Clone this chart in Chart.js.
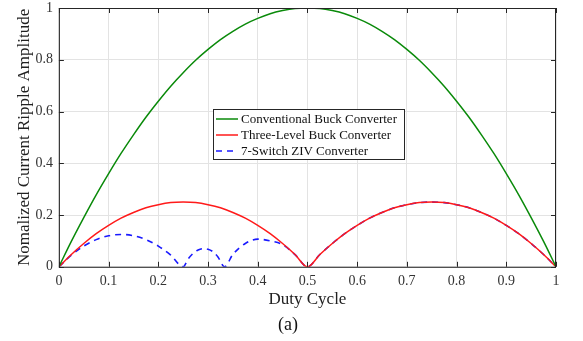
<!DOCTYPE html>
<html lang="en">
<head>
  <meta charset="UTF-8">
  <title>Current Ripple vs Duty Cycle</title>
  <script src="https://cdn.jsdelivr.net/npm/chart.js"></script>
  <style>
    body { margin: 0; background: #fff; }
    .wrap { width: 583px; height: 341px; }
  </style>
</head>
<body>
  <div class="wrap"><canvas id="rippleChart" width="583" height="341"></canvas></div>
  <script>
    // duty cycle samples
    const duty = [0, 0.025, 0.05, 0.075, 0.1, 0.125, 0.15, 0.175, 0.2, 0.225, 0.25,
      0.275, 0.3, 0.325, 0.35, 0.375, 0.4, 0.425, 0.45, 0.475, 0.5,
      0.525, 0.55, 0.575, 0.6, 0.625, 0.65, 0.675, 0.7, 0.725, 0.75,
      0.775, 0.8, 0.825, 0.85, 0.875, 0.9, 0.925, 0.95, 0.975, 1];

    const conventional = [0, 0.098, 0.19, 0.278, 0.36, 0.438, 0.51, 0.578, 0.64, 0.698, 0.75,
      0.798, 0.84, 0.878, 0.91, 0.938, 0.96, 0.978, 0.99, 0.998, 1,
      0.998, 0.99, 0.978, 0.96, 0.938, 0.91, 0.878, 0.84, 0.798, 0.75,
      0.698, 0.64, 0.578, 0.51, 0.438, 0.36, 0.278, 0.19, 0.098, 0];

    const threeLevel = [0, 0.0475, 0.09, 0.128, 0.16, 0.188, 0.21, 0.228, 0.24, 0.248, 0.25,
      0.248, 0.24, 0.228, 0.21, 0.188, 0.16, 0.128, 0.09, 0.0475, 0,
      0.0475, 0.09, 0.128, 0.16, 0.188, 0.21, 0.228, 0.24, 0.248, 0.25,
      0.248, 0.24, 0.228, 0.21, 0.188, 0.16, 0.128, 0.09, 0.0475, 0];

    // 7-switch ZIV has its own x samples below 0.5 (cusps at 0.25 and 1/3)
    const zivDuty = [0, 0.025, 0.05, 0.075, 0.1, 0.125, 0.15, 0.175, 0.2, 0.225, 0.25,
      0.26, 0.27, 0.28, 0.29, 0.3, 0.31, 0.32, 0.3333,
      0.35, 0.375, 0.4, 0.425, 0.45, 0.475, 0.5,
      0.525, 0.55, 0.575, 0.6, 0.625, 0.65, 0.675, 0.7, 0.725, 0.75,
      0.775, 0.8, 0.825, 0.85, 0.875, 0.9, 0.925, 0.95, 0.975, 1];
    const ziv = [0, 0.045, 0.08, 0.105, 0.12, 0.125, 0.12, 0.105, 0.08, 0.045, 0,
      0.03, 0.052, 0.065, 0.07, 0.068, 0.058, 0.038, 0,
      0.048, 0.09, 0.107, 0.1, 0.086, 0.047, 0,
      0.0475, 0.09, 0.128, 0.16, 0.188, 0.21, 0.228, 0.24, 0.248, 0.25,
      0.248, 0.24, 0.228, 0.21, 0.188, 0.16, 0.128, 0.09, 0.0475, 0];

    const xTicks = [0, 0.1, 0.2, 0.3, 0.4, 0.5, 0.6, 0.7, 0.8, 0.9, 1];
    const yTicks = [0, 0.2, 0.4, 0.6, 0.8, 1];

    const pts = (xs, ys) => xs.map((x, i) => ({ x: x, y: ys[i] }));
    const serif = "'Liberation Serif', 'Times New Roman', serif";

    // box with inward ticks, the legend inside the plot and the caption
    const frame = {
      id: 'frame',
      afterDraw(chart) {
        const ctx = chart.ctx;
        const a = chart.chartArea;
        const xs = chart.scales.x, ys = chart.scales.y;
        ctx.save();
        ctx.strokeStyle = '#262626';
        ctx.lineWidth = 1;
        ctx.strokeRect(a.left + 0.5, a.top + 0.5, a.right - a.left - 1, a.bottom - a.top);
        ctx.beginPath();
        xTicks.forEach(v => {
          const px = Math.round(xs.getPixelForValue(v)) + 0.5;
          ctx.moveTo(px, a.bottom); ctx.lineTo(px, a.bottom - 5);
          ctx.moveTo(px, a.top); ctx.lineTo(px, a.top + 5);
        });
        yTicks.forEach(v => {
          const py = Math.round(ys.getPixelForValue(v)) + 0.5;
          ctx.moveTo(a.left, py); ctx.lineTo(a.left + 5, py);
          ctx.moveTo(a.right, py); ctx.lineTo(a.right - 5, py);
        });
        ctx.stroke();

        // legend
        const lx = 213, ly = 109, lw = 191, lh = 50;
        ctx.fillStyle = '#fff';
        ctx.fillRect(lx, ly, lw, lh);
        ctx.strokeStyle = '#262626';
        ctx.strokeRect(lx + 0.5, ly + 0.5, lw, lh);
        ctx.font = '13px ' + serif;
        ctx.textBaseline = 'middle';
        chart.data.datasets.forEach((ds, i) => {
          const y = ly + 10 + i * 16;
          ctx.strokeStyle = ds.borderColor;
          ctx.lineWidth = 1.5;
          ctx.setLineDash(ds.borderDash || []);
          ctx.beginPath();
          ctx.moveTo(lx + 3, y); ctx.lineTo(lx + 25, y);
          ctx.stroke();
          ctx.setLineDash([]);
          ctx.fillStyle = '#111';
          ctx.fillText(ds.label, lx + 28, y + 1);
        });

        // caption
        ctx.font = '18px ' + serif;
        ctx.textAlign = 'center';
        ctx.fillStyle = '#111';
        ctx.fillText('(a)', 288, 325);
        ctx.restore();
      }
    };

    new Chart(document.getElementById('rippleChart'), {
      type: 'line',
      data: {
        datasets: [
          { label: 'Conventional Buck Converter', data: pts(duty, conventional),
            borderColor: '#0a8a0a', borderWidth: 1.5 },
          { label: 'Three-Level Buck Converter', data: pts(duty, threeLevel),
            borderColor: '#ff1a1a', borderWidth: 1.5 },
          { label: '7-Switch ZIV Converter', data: pts(zivDuty, ziv),
            borderColor: '#1a1aff', borderWidth: 1.6, borderDash: [6, 5] }
        ]
      },
      options: {
        responsive: false,
        animation: false,
        layout: { padding: { top: 0, right: 27, left: 14, bottom: 31 } },
        elements: { point: { radius: 0 }, line: { tension: 0.4, cubicInterpolationMode: 'monotone' } },
        scales: {
          x: {
            type: 'linear', min: 0, max: 1,
            afterBuildTicks: s => { s.ticks = xTicks.map(v => ({ value: v })); },
            grid: { color: '#e3e3e3', drawTicks: false },
            border: { display: false },
            ticks: { color: '#333', padding: 6, font: { family: serif, size: 14 }, callback: v => String(v) },
            title: { display: true, text: 'Duty Cycle', color: '#222', padding: { top: -6, bottom: 0 },
              font: { family: serif, size: 17 } }
          },
          y: {
            min: 0, max: 1,
            afterBuildTicks: s => { s.ticks = yTicks.map(v => ({ value: v })); },
            grid: { color: '#e3e3e3', drawTicks: true, tickLength: 5, tickColor: 'rgba(0,0,0,0)' },
            border: { display: false },
            ticks: { color: '#333', padding: 1, font: { family: serif, size: 14, lineHeight: 1 }, callback: v => String(v) },
            title: { display: true, text: 'Nomalized Current Ripple Amplitude', color: '#222',
              padding: { top: 0, bottom: 0 }, font: { family: serif, size: 17 } }
          }
        },
        plugins: {
          legend: { display: false },
          tooltip: { enabled: false },
          title: { display: false }
        }
      },
      plugins: [frame]
    });
  </script>
</body>
</html>
